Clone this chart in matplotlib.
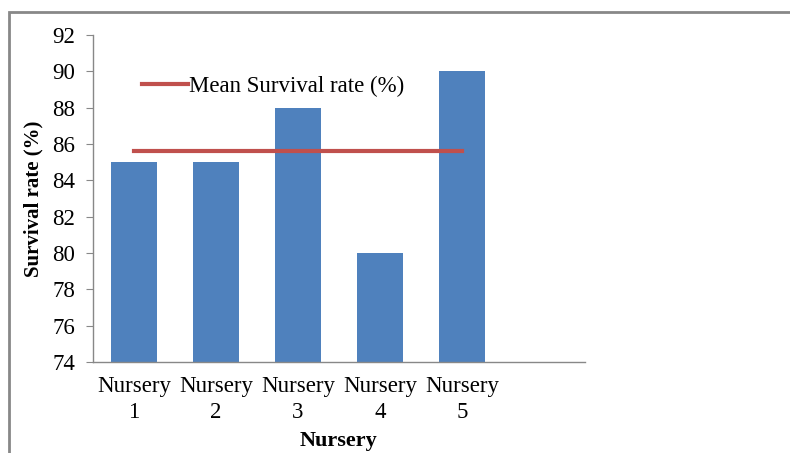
import matplotlib
matplotlib.use("Agg")
import matplotlib.pyplot as plt
import matplotlib.patches as mpatches
import numpy as np

categories = ["Nursery\n1", "Nursery\n2", "Nursery\n3", "Nursery\n4", "Nursery\n5", ""]
survival = [85, 85, 88, 80, 90]
mean_survival = [85.6, 85.6, 85.6, 85.6, 85.6]
yticks = [74, 76, 78, 80, 82, 84, 86, 88, 90, 92]

plt.rcParams['font.family'] = ['Liberation Serif', 'DejaVu Serif']

fig = plt.figure(figsize=(7.9, 4.53), dpi=100)
ax = fig.add_axes([93/790, 1-362/453, (585-93)/790, (362-35)/453])

x = np.arange(len(categories))
ax.bar(x[:len(survival)], survival, width=0.57, color='#4F81BD', zorder=2)
ax.plot(x[:len(mean_survival)], mean_survival, color='#C0504D', lw=3, zorder=3,
        label='Mean Survival rate (%)')

ax.set_xlim(-0.5, len(categories)-0.5)
ax.set_ylim(74, 92)
ax.set_yticks(yticks)
ax.set_xticks(x)
ax.set_xticklabels(categories, fontsize=16.5, linespacing=1.3)
ax.tick_params(axis='y', labelsize=16.5, length=5, color='#888888', pad=8)
ax.tick_params(axis='x', length=0, pad=10)

for s in ['top', 'right']:
    ax.spines[s].set_visible(False)
for s in ['left', 'bottom']:
    ax.spines[s].set_color('#888888')
    ax.spines[s].set_linewidth(1)

ax.set_xlabel('Nursery', fontsize=16, fontweight='bold', labelpad=6)
ax.set_ylabel('Survival rate (%)', fontsize=15, fontweight='bold', labelpad=6)

ax.legend(loc='upper left', bbox_to_anchor=(0.1, 0.875), frameon=False,
          fontsize=16.5, handlelength=2.0, handletextpad=0.05, borderaxespad=0,
          borderpad=0)

fig.patches.append(mpatches.Rectangle((9/790, -0.1), 1.2, 1 - 12/453 + 0.1,
                                      transform=fig.transFigure, fill=False,
                                      edgecolor='#888888', lw=2))

fig.savefig('out.png', dpi=100)
